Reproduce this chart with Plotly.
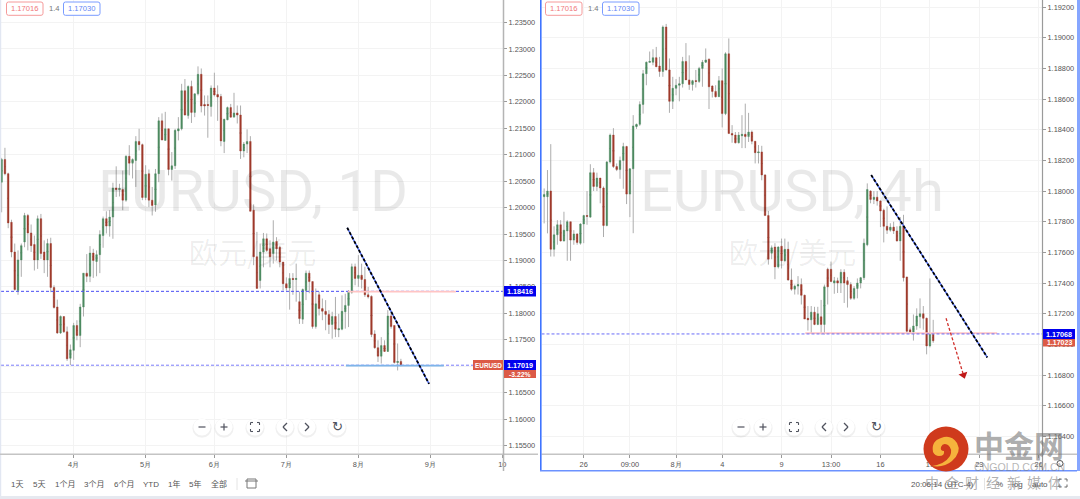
import plotly.graph_objects as go

# ---------- daily chart (EURUSD, 1D) ----------
d_open = [1.2048,1.2091,1.2064,1.1972,1.1916,1.1843,1.1901,1.1935,1.1985,1.1952,1.1930,1.1901,1.1979,1.1916,1.1901,1.1932,1.1849,1.1812,1.1763,1.1794,
1.1765,1.1715,1.1730,1.1777,1.1758,1.1812,1.1876,1.1870,1.1914,1.1898,1.1911,1.1947,1.1979,1.1965,1.1982,1.2037,1.2034,1.2034,1.2014,1.2097,
1.2084,1.2089,1.2125,1.2119,1.2019,1.2064,1.2014,1.2005,1.2064,1.2164,1.2127,1.2149,1.2072,1.2079,1.2145,1.2149,1.2221,1.2174,1.2229,1.2180,
1.2215,1.2252,1.2195,1.2195,1.2191,1.2226,1.2214,1.2210,1.2125,1.2166,1.2189,1.2171,1.2179,1.2175,1.2107,1.2120,1.2125,1.1995,1.1907,1.1862,
1.1916,1.1941,1.1922,1.1913,1.1936,1.1925,1.1897,1.1856,1.1848,1.1866,1.1864,1.1822,1.1789,1.1843,1.1876,1.1860,1.1775,1.1835,1.1809,1.1804,
1.1798,1.1779,1.1794,1.1769,1.1770,1.1803,1.1815,1.1840,1.1888,1.1866,1.1872,1.1864,1.1835,1.1832,1.1761,1.1735,1.1719,1.1739,1.1728,1.1795,
1.1777,1.1707,1.1709]
d_close = [1.2091,1.2064,1.1971,1.1916,1.1845,1.1901,1.1928,1.1985,1.1952,1.1928,1.1901,1.1979,1.1913,1.1901,1.1932,1.1849,1.1811,1.1763,1.1794,1.1765,
1.1714,1.1731,1.1777,1.1758,1.1812,1.1876,1.1870,1.1914,1.1900,1.1911,1.1949,1.1979,1.1965,1.1982,1.2037,1.2034,1.2036,1.2014,1.2097,1.2084,
1.2091,1.2125,1.2119,1.2019,1.2063,1.2014,1.2004,1.2064,1.2164,1.2128,1.2149,1.2072,1.2079,1.2146,1.2149,1.2221,1.2175,1.2229,1.2180,1.2215,
1.2252,1.2192,1.2192,1.2193,1.2226,1.2213,1.2209,1.2126,1.2167,1.2189,1.2171,1.2179,1.2175,1.2107,1.2120,1.2125,1.1993,1.1907,1.1847,1.1916,
1.1941,1.1919,1.1907,1.1935,1.1922,1.1897,1.1856,1.1848,1.1866,1.1864,1.1866,1.1790,1.1845,1.1876,1.1860,1.1775,1.1818,1.1809,1.1804,1.1798,
1.1779,1.1794,1.1770,1.1771,1.1804,1.1815,1.1840,1.1888,1.1866,1.1872,1.1864,1.1835,1.1831,1.1760,1.1735,1.1719,1.1739,1.1728,1.1795,1.1775,
1.1707,1.1709,1.17019]
d_high = [1.2094,1.2113,1.2066,1.1977,1.1932,1.1919,1.1932,1.1990,1.1988,1.1968,1.1947,1.1985,1.1988,1.1938,1.1941,1.1943,1.1853,1.1826,1.1796,1.1794,
1.1775,1.1741,1.1782,1.1787,1.1818,1.1876,1.1912,1.1927,1.1922,1.1919,1.1957,1.1983,1.1993,1.1995,1.2047,1.2078,1.2045,1.2070,1.2099,1.2118,
1.2093,1.2135,1.2149,1.2121,1.2080,1.2072,1.2039,1.2073,1.2171,1.2178,1.2181,1.2149,1.2105,1.2149,1.2171,1.2234,1.2243,1.2231,1.2240,1.2216,
1.2267,1.2263,1.2212,1.2212,1.2231,1.2255,1.2231,1.2215,1.2168,1.2191,1.2196,1.2217,1.2193,1.2193,1.2124,1.2148,1.2135,1.2006,1.1954,1.1932,
1.1952,1.1951,1.1938,1.1976,1.1944,1.1928,1.1897,1.1868,1.1876,1.1876,1.1894,1.1841,1.1847,1.1881,1.1881,1.1860,1.1847,1.1841,1.1828,1.1825,
1.1806,1.1803,1.1831,1.1799,1.1834,1.1837,1.1844,1.1894,1.1894,1.1910,1.1894,1.1888,1.1850,1.1834,1.1768,1.1749,1.1755,1.1749,1.1806,1.1803,
1.1777,1.1743,1.1714]
d_low = [1.1991,1.2061,1.1961,1.1906,1.1843,1.1835,1.1869,1.1925,1.1919,1.1916,1.1881,1.1884,1.1903,1.1876,1.1869,1.1840,1.1809,1.1761,1.1761,1.1763,
1.1710,1.1702,1.1712,1.1749,1.1736,1.1794,1.1859,1.1859,1.1867,1.1870,1.1876,1.1924,1.1951,1.1945,1.1941,1.2020,1.2021,1.1995,1.2011,1.2061,
1.2055,1.2039,1.2108,1.2014,1.2014,1.2001,1.1985,1.1992,1.2048,1.2127,1.2127,1.2061,1.2051,1.2073,1.2127,1.2146,1.2174,1.2168,1.2160,1.2171,
1.2212,1.2180,1.2174,1.2132,1.2172,1.2210,1.2164,1.2116,1.2103,1.2165,1.2170,1.2171,1.2159,1.2092,1.2095,1.2103,1.1993,1.1891,1.1847,1.1847,
1.1887,1.1916,1.1887,1.1894,1.1900,1.1887,1.1843,1.1843,1.1807,1.1835,1.1822,1.1780,1.1780,1.1825,1.1838,1.1771,1.1771,1.1796,1.1787,1.1768,
1.1761,1.1752,1.1755,1.1755,1.1768,1.1771,1.1774,1.1837,1.1853,1.1850,1.1847,1.1831,1.1828,1.1755,1.1733,1.1708,1.1705,1.1727,1.1727,1.1771,
1.1705,1.1692,1.1700]
d_tick_pos = [22,44,65,87,109,131,153]
d_tick_txt = ["4月","5月","6月","7月","8月","9月","10"]
d_trend_x, d_trend_y = [105.6,130.6], [1.19618,1.16667]
d_red_x, d_red_y = [105.8,138.8], [1.1841,1.1841]
d_blue_x, d_blue_y = [105.2,135.1], [1.1701,1.1701]
d_level_a, d_level_b = 1.18416, 1.17019

# ---------- 4-hour chart (EURUSD, 4h) ----------
h_open = [1.17963,1.17963,1.18000,1.17620,1.17715,1.17780,1.17675,1.17740,1.17800,1.17680,1.17720,1.17660,1.17785,1.17840,1.17830,1.18120,1.18030,1.18085,1.18020,1.17775,
1.18190,1.18365,1.18160,1.18140,1.18200,1.18290,1.17980,1.18145,1.18420,1.18435,1.18565,1.18765,1.18840,1.18840,1.18870,1.18815,1.18780,1.19070,1.18790,1.18585,
1.18670,1.18690,1.18700,1.18845,1.18725,1.18695,1.18720,1.18715,1.18800,1.18840,1.18860,1.18685,1.18650,1.18615,1.18720,1.18505,1.18895,1.18375,1.18365,1.18315,
1.18360,1.18370,1.18355,1.18385,1.18325,1.18250,1.18255,1.18105,1.17840,1.17595,1.17635,1.17505,1.17640,1.17545,1.17620,1.17420,1.17360,1.17380,1.17390,1.17320,
1.17170,1.17160,1.17210,1.17130,1.17180,1.17130,1.17490,1.17490,1.17400,1.17415,1.17400,1.17470,1.17415,1.17390,1.17300,1.17365,1.17400,1.17435,1.17650,1.18000,
1.17945,1.17960,1.17935,1.17875,1.17770,1.17745,1.17765,1.17740,1.17675,1.17770,1.17440,1.17095,1.17080,1.17120,1.17180,1.17200,1.17170,1.16990,1.17065]
h_close = [1.17978,1.18000,1.17620,1.17715,1.17780,1.17675,1.17745,1.17800,1.17680,1.17720,1.17665,1.17785,1.17840,1.17835,1.18120,1.18030,1.18085,1.18020,1.17775,1.18190,
1.18365,1.18160,1.18140,1.18200,1.18290,1.17980,1.18145,1.18425,1.18435,1.18565,1.18765,1.18840,1.18845,1.18870,1.18810,1.18780,1.19070,1.18790,1.18585,1.18670,
1.18690,1.18700,1.18845,1.18725,1.18695,1.18720,1.18715,1.18800,1.18840,1.18855,1.18680,1.18650,1.18615,1.18720,1.18505,1.18895,1.18375,1.18365,1.18315,1.18365,
1.18370,1.18355,1.18385,1.18325,1.18250,1.18255,1.18105,1.17840,1.17555,1.17630,1.17505,1.17635,1.17545,1.17620,1.17420,1.17360,1.17380,1.17390,1.17320,1.17165,
1.17160,1.17210,1.17130,1.17200,1.17130,1.17375,1.17375,1.17410,1.17415,1.17400,1.17470,1.17400,1.17390,1.17300,1.17365,1.17400,1.17435,1.17660,1.18010,1.17945,
1.17960,1.17935,1.17870,1.17770,1.17745,1.17765,1.17740,1.17675,1.17770,1.17435,1.17085,1.17080,1.17120,1.17185,1.17200,1.17170,1.16990,1.17065,1.17023]
h_high = [1.18017,1.18137,1.18306,1.17770,1.17810,1.17810,1.17865,1.17810,1.17800,1.17745,1.17725,1.17790,1.17845,1.18000,1.18175,1.18150,1.18120,1.18085,1.18030,1.18195,
1.18375,1.18410,1.18180,1.18225,1.18315,1.18295,1.18150,1.18495,1.18440,1.18585,1.18790,1.18845,1.18910,1.18925,1.18940,1.18875,1.19080,1.19090,1.18865,1.18745,
1.18730,1.18745,1.18875,1.18965,1.18885,1.18725,1.18790,1.18810,1.18855,1.18930,1.18865,1.18690,1.18690,1.18750,1.18800,1.18905,1.18995,1.18430,1.18385,1.18385,
1.18495,1.18570,1.18510,1.18395,1.18325,1.18300,1.18295,1.18110,1.17870,1.17645,1.17660,1.17640,1.17690,1.17690,1.17670,1.17495,1.17390,1.17445,1.17430,1.17325,
1.17250,1.17250,1.17245,1.17245,1.17290,1.17390,1.17500,1.17540,1.17440,1.17435,1.17490,1.17490,1.17440,1.17405,1.17380,1.17430,1.17440,1.17690,1.18050,1.18005,
1.18000,1.18000,1.17940,1.17885,1.17900,1.17790,1.17800,1.17770,1.17830,1.17845,1.17440,1.17110,1.17195,1.17235,1.17300,1.17250,1.17175,1.17430,1.17160]
h_low = [1.17789,1.17724,1.17573,1.17573,1.17650,1.17670,1.17670,1.17545,1.17545,1.17650,1.17650,1.17650,1.17660,1.17780,1.17825,1.18000,1.18000,1.17920,1.17700,1.17770,
1.18180,1.18150,1.18130,1.18080,1.18015,1.17915,1.17830,1.17725,1.18405,1.18425,1.18505,1.18690,1.18840,1.18820,1.18810,1.18745,1.18745,1.18785,1.18510,1.18535,
1.18625,1.18585,1.18675,1.18725,1.18660,1.18655,1.18675,1.18705,1.18680,1.18835,1.18535,1.18610,1.18610,1.18615,1.18415,1.18495,1.18375,1.18315,1.18310,1.18310,
1.18280,1.18280,1.18320,1.18305,1.18180,1.18180,1.18070,1.17840,1.17520,1.17555,1.17425,1.17495,1.17495,1.17540,1.17415,1.17350,1.17325,1.17325,1.17260,1.17165,
1.17090,1.17070,1.17125,1.17125,1.17065,1.17065,1.17260,1.17405,1.17330,1.17335,1.17335,1.17270,1.17240,1.17290,1.17290,1.17300,1.17365,1.17420,1.17640,1.17920,
1.17915,1.17905,1.17765,1.17665,1.17720,1.17735,1.17720,1.17670,1.17545,1.17410,1.17070,1.17070,1.17025,1.17095,1.17105,1.17095,1.16935,1.16980,1.17010]
h_tick_pos = [12,26,40,54,72,87,102,117,132,150]
h_tick_txt = ["26","09:00","8月","4","9","13:00","16","19","23","26"]
h_trend_x, h_trend_y = [99.2,134.4], [1.18104,1.16915]
h_red_x, h_red_y = [79.2,137.4], [1.17074,1.17074]
h_arrow_x, h_arrow_y = [121.9,127.2], [1.1717,1.1680]
h_level = 1.17068

d_range_x, d_range_y = [-0.2,153.2], [1.1534,1.23925]
h_range_x, h_range_y = [-0.81,151.0], [1.16285,1.19246]

GREEN, RED, WICK = "#4d8a60", "#a03a2c", "#adadad"
W, H = 1080, 499
px = lambda x: x / W
py = lambda y: 1 - y / H

def candle_traces(o, h, l, c, xa, ya):
    x = list(range(len(o)))
    top = [max(a, b) for a, b in zip(o, c)]
    bot = [min(a, b) for a, b in zip(o, c)]
    mid = [(a + b) / 2 for a, b in zip(o, c)]
    wick = go.Candlestick(x=x, open=mid, high=h, low=l, close=mid, xaxis=xa, yaxis=ya, whiskerwidth=0,
        increasing=dict(line=dict(color=WICK, width=1), fillcolor=WICK),
        decreasing=dict(line=dict(color=WICK, width=1), fillcolor=WICK), showlegend=False, hoverinfo="skip")
    body = go.Candlestick(x=x, open=o, high=top, low=bot, close=c, xaxis=xa, yaxis=ya, whiskerwidth=0,
        increasing=dict(line=dict(color=GREEN, width=0.4), fillcolor=GREEN),
        decreasing=dict(line=dict(color=RED, width=0.4), fillcolor=RED), showlegend=False, hoverinfo="skip")
    return [wick, body]

def line(x, y, xa, ya, color, width, dash=None):
    return go.Scatter(x=x, y=y, xaxis=xa, yaxis=ya, mode="lines", showlegend=False, hoverinfo="skip",
                      line=dict(color=color, width=width, dash=dash))

fig = go.Figure()
for t in candle_traces(d_open, d_high, d_low, d_close, "x", "y"):
    fig.add_trace(t)
for t in candle_traces(h_open, h_high, h_low, h_close, "x2", "y2"):
    fig.add_trace(t)

DASH = "3px,2px"
fig.add_trace(line(d_range_x, [d_level_a]*2, "x", "y", "#4a4cf5", 1, DASH))
fig.add_trace(line(d_range_x, [d_level_b]*2, "x", "y", "#7a7cfa", 1, DASH))
fig.add_trace(line(d_red_x, d_red_y, "x", "y", "#ffc4c4", 1.6))
fig.add_trace(line(d_blue_x, d_blue_y, "x", "y", "#7db4ea", 1.8))
fig.add_trace(line(d_trend_x, d_trend_y, "x", "y", "#4f6ef5", 1.5))
fig.add_trace(line(d_trend_x, d_trend_y, "x", "y", "#000000", 1.8, DASH))
fig.add_trace(line(h_red_x, h_red_y, "x2", "y2", "#ffc4c4", 1.8))
fig.add_trace(line(h_range_x, [h_level]*2, "x2", "y2", "#6a6cf8", 1, DASH))
fig.add_trace(line(h_trend_x, h_trend_y, "x2", "y2", "#4f6ef5", 1.5))
fig.add_trace(line(h_trend_x, h_trend_y, "x2", "y2", "#000000", 1.8, DASH))
fig.add_trace(line(h_arrow_x, h_arrow_y, "x2", "y2", "#d0302c", 1.3, DASH))
fig.add_trace(go.Scatter(x=h_arrow_x[1:], y=h_arrow_y[1:], xaxis="x2", yaxis="y2", mode="markers", showlegend=False, hoverinfo="skip",
    marker=dict(symbol="triangle-down", angle=-18, size=8, color="#c01818", line=dict(width=0))))

axis_common = dict(showgrid=True, gridcolor="#f3f3f3", gridwidth=1, zeroline=False, showline=False,
                   ticks="outside", ticklen=3, tickcolor="#9a9a9a", tickfont=dict(family="Liberation Sans", size=7.4, color="#555555"))
ydom = [py(454), 1]
fig.update_layout(
    width=W, height=H, margin=dict(l=0, r=0, t=0, b=0, autoexpand=False), paper_bgcolor="white", plot_bgcolor="white", showlegend=False,
    xaxis=dict(domain=[px(1), px(503)], range=d_range_x, tickmode="array", tickvals=d_tick_pos, ticktext=d_tick_txt,
               rangeslider=dict(visible=False), anchor="y", **axis_common),
    yaxis=dict(domain=ydom, range=d_range_y, side="right", anchor="x", tickmode="linear", tick0=1.155, dtick=0.005,
               tickformat=".5f", **axis_common),
    xaxis2=dict(domain=[px(541.5), px(1042)], range=h_range_x, tickmode="array", tickvals=h_tick_pos, ticktext=h_tick_txt,
                rangeslider=dict(visible=False), anchor="y2", **axis_common),
    yaxis2=dict(domain=ydom, range=h_range_y, side="right", anchor="x2", tickmode="linear", tick0=1.164, dtick=0.002,
                tickformat=".5f", **axis_common),
)

shapes, ann = [], []

def rect(x0, y0, x1, y1, fill=None, border=None, bw=1, r=0):
    if r:
        xa0, xa1, ya0, ya1 = x0 + r, x1 - r, y0 + r, y1 - r
        path = (f"M{px(xa0)},{py(y0)} L{px(xa1)},{py(y0)} Q{px(x1)},{py(y0)} {px(x1)},{py(ya0)} L{px(x1)},{py(ya1)} "
                f"Q{px(x1)},{py(y1)} {px(xa1)},{py(y1)} L{px(xa0)},{py(y1)} Q{px(x0)},{py(y1)} {px(x0)},{py(ya1)} "
                f"L{px(x0)},{py(ya0)} Q{px(x0)},{py(y0)} {px(xa0)},{py(y0)} Z")
        shapes.append(dict(type="path", xref="paper", yref="paper", path=path, fillcolor=fill or "rgba(0,0,0,0)",
                           line=dict(color=border or "rgba(0,0,0,0)", width=bw)))
    else:
        shapes.append(dict(type="rect", xref="paper", yref="paper", x0=px(x0), x1=px(x1), y0=py(y0), y1=py(y1),
                           fillcolor=fill or "rgba(0,0,0,0)", line=dict(color=border or "rgba(0,0,0,0)", width=bw if border else 0)))

def seg(x0, y0, x1, y1, color, w=1):
    shapes.append(dict(type="line", xref="paper", yref="paper", x0=px(x0), x1=px(x1), y0=py(y0), y1=py(y1),
                       line=dict(color=color, width=w)))

def text(x, y, s, size=7.5, color="#555555", family="Liberation Sans, Noto Sans CJK SC", anchor="center", bold=False):
    if bold:
        s = f"<b>{s}</b>"
    ann.append(dict(xref="paper", yref="paper", x=px(x), y=py(y), text=s, showarrow=False, xanchor=anchor, yanchor="middle",
                    font=dict(size=size, color=color, family=family)))

def circle(cx, cy, r, fill, border=None, bw=1):
    shapes.append(dict(type="circle", xref="paper", yref="paper", x0=px(cx-r), x1=px(cx+r), y0=py(cy-r), y1=py(cy+r),
                       fillcolor=fill, line=dict(color=border or "rgba(0,0,0,0)", width=bw if border else 0)))

# frames
rect(0, 0, 1.2, 499, fill="#e2e7f2")
rect(0, 496, 1080, 499, fill="#e6e9f0")
seg(0, 454.2, 538, 454.2, "#c4c4c4", 1.5)
seg(503.5, 0, 503.5, 471, "#b4b4b4", 1.5)
seg(541.5, 454.2, 1077, 454.2, "#c4c4c4", 1.5)
seg(1042.5, 0, 1042.5, 471, "#9a9a9a", 1.2)
seg(540.8, 0, 540.8, 471, "#3f74ff", 1.6)
seg(540, 470.8, 1077, 470.8, "#6c92ff", 1.6)
rect(1077, 0, 1080, 471, fill="#86a6ff")

# watermarks
WM = "rgba(0,0,0,0.085)"
text(253, 191, "EURUSD, 1D", 58, WM, "Roboto")
text(792, 191, "EURUSD, 4h", 58, WM, "Roboto")
text(252, 251, "欧元/美元", 29, "rgba(0,0,0,0.07)", "Noto Sans CJK SC")
text(792, 251, "欧元/美元", 29, "rgba(0,0,0,0.07)", "Noto Sans CJK SC")

# quote boxes
for off in (0, 539):
    rect(6.5+off, 2, 43+off, 15.3, fill="white", border="#f59a9a", bw=1, r=2)
    text(24.7+off, 8.8, "1.17016", 7.6, "#f07878")
    text(54+off, 8.8, "1.4", 7.6, "#777777")
    rect(63.5+off, 2, 100+off, 15.3, fill="white", border="#7a9cff", bw=1, r=2)
    text(81.7+off, 8.8, "1.17030", 7.6, "#5f86f5")

# price labels
rect(504, 286, 536, 296.5, fill="#0000ee"); text(520, 291.3, "1.18416", 7.2, "white", bold=True)
rect(504, 360, 536, 370, fill="#0000ee"); text(520, 365.2, "1.17019", 7.2, "white", bold=True)
rect(504, 370, 536, 378, fill="#dc5a46"); text(520, 374, "-3.22%", 6.8, "white", bold=True)
rect(473, 360, 503, 370, fill="#dc5a46"); text(488, 365.2, "EURUSD", 6.4, "white", bold=True)
rect(1043, 329, 1075, 339, fill="#0000ee"); text(1059, 334.2, "1.17068", 7.2, "white", bold=True)
rect(1043, 339, 1075, 346.5, fill="#dc5a46"); text(1059, 342.6, "1.17023", 7.0, "white", bold=True)

# chart buttons
def buttons(xs):
    cy = 427
    for x in xs:
        circle(x, cy+1.2, 9.6, "rgba(0,0,0,0.06)")
        circle(x, cy, 8.6, "white")
    a, b, c, d, e, f = xs
    col = "#50535e"
    seg(a-3.5, cy, a+3.5, cy, col, 1.2)
    seg(b-3.5, cy, b+3.5, cy, col, 1.2)
    seg(b, cy-3.5, b, cy+3.5, col, 1.2)
    for sx in (-1, 1):
        for sy in (-1, 1):
            seg(c+sx*4.5, cy+sy*4.5, c+sx*2, cy+sy*4.5, col, 1.1)
            seg(c+sx*4.5, cy+sy*4.5, c+sx*4.5, cy+sy*2, col, 1.1)
    seg(d+2, cy-4, d-2, cy, col, 1.2); seg(d-2, cy, d+2, cy+4, col, 1.2)
    seg(e-2, cy-4, e+2, cy, col, 1.2); seg(e+2, cy, e-2, cy+4, col, 1.2)
    text(f, cy-0.5, "↻", 13, col, "DejaVu Sans")
buttons([202, 224, 255, 285, 307, 337])
buttons([741, 763, 794, 824, 846, 876])

# range bar
for x, s in [(17,"1天"),(38.5,"5天"),(64.5,"1个月"),(94,"3个月"),(124,"6个月"),(151,"YTD"),(173.5,"1年"),(195,"5年"),(218.5,"全部")]:
    text(x, 484, s, 8, "#555555")
seg(237, 478, 237, 490, "#e4e4e4", 1)
rect(247, 479, 256, 488, border="#777777", bw=1)
seg(245, 481, 258, 481, "#777777", 1)
seg(984.5, 478, 984.5, 490, "#e4e4e4", 1)
text(942, 484, "20:06:14 (UTC-4)", 8, "#555555")
text(999, 484, "%", 8, "#555555")
text(1018, 484, "log", 8, "#555555")
text(1040, 484, "auto", 8, "#555555")

# brand logo
circle(946, 449, 22.5, "#cf3a1c")
def P(*pts):
    return " ".join(f"{c}{px(x)},{py(y)}" if c in "ML" else f"Q{px(x)},{py(y)} {px(x2)},{py(y2)}" for c, x, y, x2, y2 in pts)
logo = P(("M",933,452,0,0),("Q",931,441,941,438),("Q",951,434,957,443),("Q",962,452,952,461),("Q",944,468,932,466),
         ("Q",945,464,950,456),("Q",953,449,948,445),("Q",943,442,941,447),("Q",940,451,944,451),("Q",945,456,939,456),("Q",935,456,933,452)) + " Z"
shapes.append(dict(type="path", xref="paper", yref="paper", path=logo, fillcolor="#f6b33c", line=dict(width=0)))
text(1019, 444, "中金网", 30, "rgba(120,120,120,0.62)", "Noto Sans CJK SC", bold=True)
text(1019, 467, "CNGOLD.COM.CN", 10.6, "rgba(120,120,120,0.55)", "Liberation Sans")
for x, s in zip([932,952,972,993,1014,1034,1055], "中金财经新媒体"):
    text(x, 482, s, 14, "rgba(110,110,110,0.55)", "Noto Sans CJK SC")
circle(1060, 463.5, 3, "white", "#555555", 1)
for sx in (-1, 1):
    for sy in (-1, 1):
        seg(1063+sx*4, 483+sy*4, 1063+sx*1.5, 483+sy*4, "#666666", 1)
        seg(1063+sx*4, 483+sy*4, 1063+sx*4, 483+sy*1.5, "#666666", 1)

fig.update_layout(shapes=shapes, annotations=ann)
fig.write_html("out.html", config={"displayModeBar": False},
               post_script="document.body.style.margin='0';document.documentElement.style.overflow='hidden';")
